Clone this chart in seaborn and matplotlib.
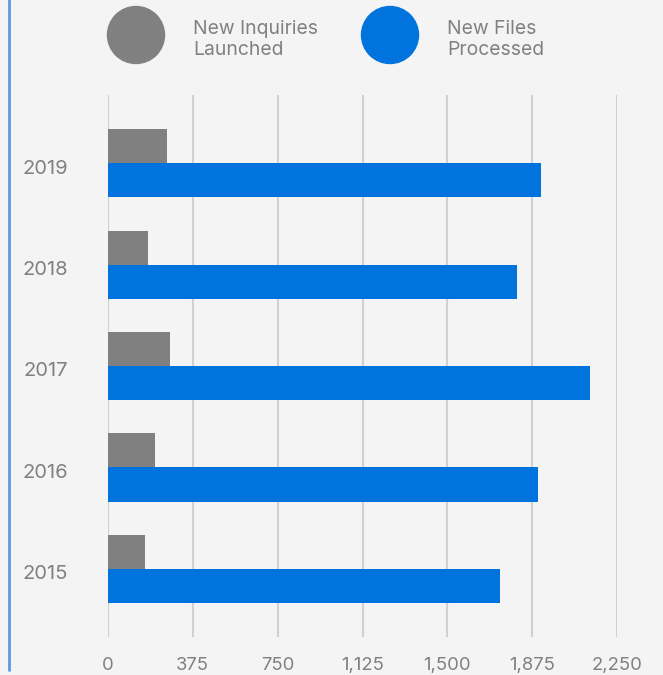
import matplotlib
matplotlib.use('Agg')
import matplotlib.pyplot as plt
import matplotlib.transforms as mtransforms
import seaborn as sns
import pandas as pd
from matplotlib.patches import Ellipse
from matplotlib.lines import Line2D

years = ['2019', '2018', '2017', '2016', '2015']
inquiries = [261, 177, 274, 208, 164]
files = [1914, 1808, 2131, 1901, 1733]
series = ['New Inquiries\nLaunched', 'New Files\nProcessed']
xticks = [0, 375, 750, 1125, 1500, 1875, 2250]
xticklabels = ['0', '375', '750', '1,125', '1,500', '1,875', '2,250']
colors = ['#808080', '#0073dd']

df = pd.DataFrame({
    'year': years * 2,
    'value': inquiries + files,
    'series': [series[0]] * len(years) + [series[1]] * len(years),
})

sns.set_theme(style='white')
plt.rcParams['font.family'] = ['Inter', 'DejaVu Sans']
bg = '#f4f4f4'
W, H = 663, 675
fig = plt.figure(figsize=(W / 100, H / 100), dpi=100, facecolor=bg)
ax = fig.add_axes([108 / W, 1 - 637 / H, (617 - 108) / W, (637 - 95) / H])
ax.set_facecolor(bg)

sns.barplot(data=df, y='year', x='value', hue='series', order=years,
            hue_order=series, palette=colors, width=0.67, orient='h',
            ax=ax, legend=False, saturation=1, linewidth=0)

ax.set_xlim(0, 2250)
ax.set_ylim(4.67, -0.67)
ax.set_xticks(xticks)
ax.set_xticklabels(xticklabels)
ax.set_xlabel('')
ax.set_ylabel('')
ax.grid(axis='x', color='#d0d0d0', lw=1.5)
ax.grid(axis='y', visible=False)
ax.set_axisbelow(True)
for s in ax.spines.values():
    s.set_visible(False)
ax.tick_params(length=0, colors='#808080')
ax.tick_params(axis='y', pad=29, labelsize=14.5)
ax.tick_params(axis='x', pad=14.5, labelsize=13.3)
shift = mtransforms.ScaledTranslation(0, -3.5 / 100, fig.dpi_scale_trans)
for lab in ax.get_yticklabels():
    lab.set_transform(lab.get_transform() + shift)

# legend
for cx, tx, lab, col in [(136, 193, series[0], colors[0]), (390, 447, series[1], colors[1])]:
    fig.add_artist(Ellipse((cx / W, 1 - 35 / H), 57 / W, 57 / H,
                           transform=fig.transFigure, color=col))
    fig.text(tx / W, 1 - 39.5 / H, lab, ha='left', va='center', fontsize=13.9,
             color='#808080', linespacing=1.15)

fig.add_artist(Line2D([9 / W, 9 / W], [1 - 670 / H, 1], transform=fig.transFigure,
                      color='#5b9be0', lw=2))

fig.savefig('out.png', dpi=100, facecolor=bg)
